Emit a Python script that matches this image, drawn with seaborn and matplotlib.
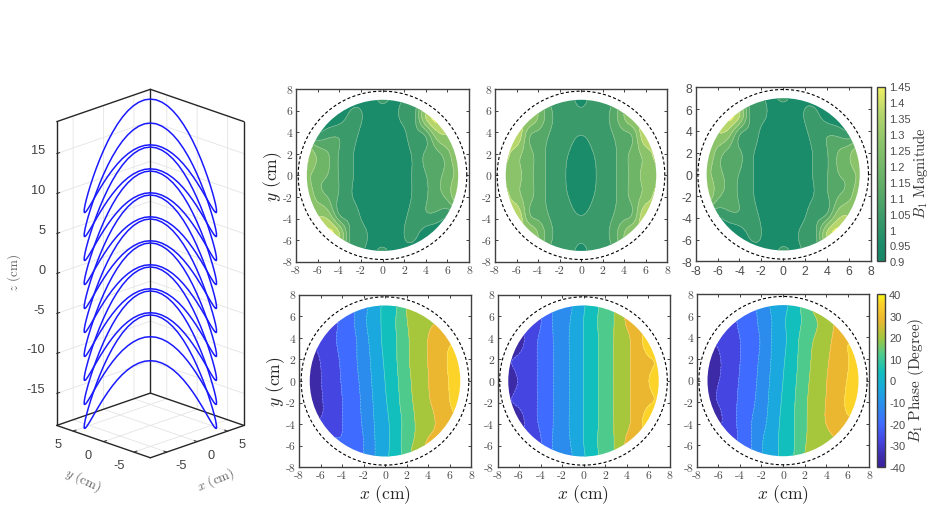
import numpy as np
import matplotlib
matplotlib.use("Agg")
import matplotlib.pyplot as plt
import pandas as pd
import seaborn as sns
from matplotlib.colors import LinearSegmentedColormap, Normalize
from matplotlib.cm import ScalarMappable
from matplotlib.patches import Circle
from mpl_toolkits.mplot3d import proj3d

W, H = 935, 510

# Sampling positions of the field tables (cm)
grid_x = [-7, -6, -5, -4, -3, -2, -1, 0, 1, 2, 3, 4, 5, 6, 7]
grid_y = [7, 5.5, 4, 2, 0, -2, -4, -5.5, -7]

# B1 magnitude, one row per grid_y value
mag_left = [
    [.92, .92, .93, .94, .96, .98, .97, 1.02, .98, 1.005, 1.035, 1.14, 1.18, 1.18, 1.18],
    [.93, .93, .93, .95, 1.015, 1.005, .97, .95, .97, 1.02, 1.06, 1.33, 1.44, 1.30, 1.18],
    [.98, .99, 1.03, 1.05, 1.035, .99, .95, .94, .95, .99, 1.05, 1.11, 1.30, 1.32, 1.20],
    [1.33, 1.195, 1.14, 1.065, 1.015, .97, .94, .93, .94, .97, 1.02, 1.08, 1.12, 1.19, 1.33],
    [1.26, 1.17, 1.135, 1.065, 1.015, .97, .94, .93, .94, .97, 1.015, 1.067, 1.115, 1.17, 1.26],
    [1.33, 1.19, 1.135, 1.06, 1.01, .97, .94, .93, .94, .97, 1.015, 1.06, 1.115, 1.16, 1.33],
    [1.20, 1.32, 1.30, 1.11, 1.05, 1.00, .96, .94, .95, .99, 1.035, 1.05, 1.03, .99, .98],
    [1.18, 1.30, 1.44, 1.33, 1.065, 1.02, .98, .95, .96, 1.00, 1.015, .95, .93, .93, .93],
    [1.18, 1.18, 1.18, 1.14, 1.035, 1.01, .98, 1.02, .97, .98, .96, .94, .93, .92, .92],
]
mag_mid = [
    [1.155, 1.155, 1.155, 1.14, 1.065, 1.03, 1.02, .98, 1.02, 1.03, 1.065, 1.14, 1.155, 1.155, 1.155],
    [1.32, 1.32, 1.32, 1.22, 1.10, 1.04, 1.02, 1.015, 1.02, 1.04, 1.10, 1.22, 1.32, 1.32, 1.32],
    [1.30, 1.42, 1.20, 1.13, 1.075, 1.035, 1.015, 1.005, 1.015, 1.035, 1.075, 1.13, 1.20, 1.42, 1.30],
    [1.36, 1.26, 1.18, 1.11, 1.055, 1.02, .995, .97, .995, 1.02, 1.055, 1.11, 1.18, 1.26, 1.36],
    [1.28, 1.25, 1.18, 1.11, 1.055, 1.02, .985, .96, .985, 1.02, 1.055, 1.11, 1.18, 1.25, 1.28],
    [1.36, 1.26, 1.18, 1.11, 1.055, 1.02, .995, .97, .995, 1.02, 1.055, 1.11, 1.18, 1.26, 1.36],
    [1.30, 1.42, 1.20, 1.13, 1.075, 1.035, 1.015, 1.005, 1.015, 1.035, 1.075, 1.13, 1.20, 1.42, 1.30],
    [1.32, 1.32, 1.32, 1.22, 1.10, 1.04, 1.02, 1.015, 1.02, 1.04, 1.10, 1.22, 1.32, 1.32, 1.32],
    [1.155, 1.155, 1.155, 1.14, 1.065, 1.03, 1.02, .98, 1.02, 1.03, 1.065, 1.14, 1.155, 1.155, 1.155],
]
mag_right = [
    [1.18, 1.18, 1.18, 1.14, 1.035, 1.01, .98, 1.02, .97, .98, .96, .94, .93, .92, .92],
    [1.18, 1.30, 1.44, 1.33, 1.06, 1.02, .97, .95, .97, 1.005, 1.015, .95, .93, .93, .93],
    [1.20, 1.32, 1.30, 1.11, 1.05, .99, .95, .94, .95, .99, 1.035, 1.05, 1.03, .99, .98],
    [1.33, 1.19, 1.12, 1.08, 1.02, .97, .94, .93, .94, .97, 1.015, 1.065, 1.14, 1.195, 1.33],
    [1.26, 1.17, 1.115, 1.067, 1.015, .97, .94, .93, .94, .97, 1.015, 1.065, 1.135, 1.17, 1.26],
    [1.33, 1.16, 1.115, 1.06, 1.015, .97, .94, .93, .94, .97, 1.01, 1.06, 1.135, 1.19, 1.33],
    [.98, .99, 1.03, 1.05, 1.035, .99, .95, .94, .96, 1.00, 1.05, 1.11, 1.30, 1.32, 1.20],
    [.93, .93, .93, .95, 1.015, 1.00, .96, .95, .98, 1.02, 1.065, 1.33, 1.44, 1.30, 1.18],
    [.92, .92, .93, .94, .96, .98, .97, 1.02, .98, 1.01, 1.035, 1.14, 1.18, 1.18, 1.18],
]

# B1 phase in degrees, one row per grid_y value
phase_left = [
    [-26, -26, -25, -22, -17, -11, -4, 2, 7, 16, 21, 23, 24, 24, 24],
    [-30, -28, -26, -22.5, -17, -10, -3.5, 2, 8, 15.5, 20, 23, 24, 25, 25],
    [-32, -29, -25.8, -22, -17.8, -11.5, -4, 1.8, 7.5, 14.5, 20, 24, 27.5, 30, 31],
    [-36.5, -31.7, -27.3, -22.8, -18, -12.5, -5.3, 1, 7.2, 14.4, 19.5, 24.2, 28.7, 33, 38],
    [-37, -32.4, -28, -23.5, -18.8, -13.5, -6.2, 0, 6.2, 13.5, 18.8, 23.7, 28, 32.4, 37],
    [-37.5, -33, -28.7, -24.2, -19.5, -14.4, -7.2, -1, 5.3, 12.5, 18, 22.8, 27.3, 31.7, 36.5],
    [-31, -30, -27.5, -24.2, -20, -15, -8, -2.3, 4, 11, 17, 21, 25.5, 29, 32],
    [-22, -22, -23, -23.5, -20.5, -16, -8.5, -2.4, 3.8, 12, 18, 24.5, 26, 28, 30],
    [-21, -21, -21, -21, -20, -16, -8.5, -2, 4, 12, 22, 26, 27, 28, 30],
]
phase_mid = [
    [-26, -26, -26, -25, -17, -12, -8, -1, 5, 12, 17, 25, 26, 26, 26],
    [-30, -30, -28, -24.5, -16.8, -12, -6.5, 0, 6, 12, 17, 24.7, 27, 30, 30],
    [-40, -36, -28, -23, -17, -11.7, -6, 0, 5.7, 11.5, 17, 22.4, 28, 36, 40],
    [-33, -30.5, -27, -22.5, -17, -12, -6.2, 0, 5.7, 11.5, 17, 22.2, 27, 31, 33],
    [-36.5, -31.4, -27, -22.5, -17, -12, -6.2, 0, 5.7, 11.5, 17, 22.2, 27, 31.6, 36],
    [-33, -30.5, -27, -22.5, -17, -12, -6.2, 0, 5.7, 11.5, 17, 22.2, 27, 31, 33],
    [-40, -36, -28, -23, -17, -11.7, -6, 0, 5.7, 11.5, 17, 22.4, 28, 36, 40],
    [-30, -30, -28, -24.5, -16.8, -12, -6.5, 0, 6, 12, 17, 24.7, 27, 30, 30],
    [-26, -26, -26, -25, -17, -12, -8, -1, 5, 12, 17, 25, 26, 26, 26],
]
phase_right = [
    [-28, -28, -27, -24, -19, -13, -6.5, -2, 3, 12, 20, 26, 26, 28, 30],
    [-30, -29, -27, -23, -20, -13.5, -7.8, -1.3, 3.7, 9.8, 15, 21, 25, 27, 30],
    [-32, -30.5, -28, -24, -20, -15, -7.5, -1.8, 4.5, 11.4, 16.5, 21.5, 26, 31, 36],
    [-37.5, -33, -28.7, -24.2, -19.5, -14.4, -7.2, -1, 5.3, 12.5, 18, 22.8, 27.3, 31.7, 34],
    [-37, -32.4, -28, -23.5, -18.8, -13.5, -6.2, 0, 6.2, 13.5, 18.8, 23.7, 28, 32.4, 37],
    [-36.5, -31.7, -27.3, -22.8, -18, -12.5, -5.3, 1, 7.2, 14.4, 19.5, 24.2, 28.7, 33.2, 37],
    [-36, -34, -27, -22.8, -16.5, -11, -4, 1.8, 7.5, 14.5, 20, 24, 28, 30, 32],
    [-26, -26, -26, -23, -16.5, -9, -3, 2, 7.5, 15, 19, 22, 24, 26, 28],
    [-24, -24, -24, -23, -17, -9, -3, 2, 8, 16, 21, 24, 25, 26, 28],
]

# Contour levels and colour bar ticks
mag_levels = [0.9, 1.0, 1.07, 1.14, 1.22, 1.32, 1.42, 1.5]
mag_ticks = [0.9, 0.95, 1, 1.05, 1.1, 1.15, 1.2, 1.25, 1.3, 1.35, 1.4, 1.45]
mag_tick_labels = ["0.9", "0.95", "1", "1.05", "1.1", "1.15", "1.2", "1.25", "1.3", "1.35", "1.4", "1.45"]
phase_levels = [-40, -32, -24, -16, -8, 0, 8, 16, 24, 32, 40]
phase_ticks = [-40, -30, -20, -10, 0, 10, 20, 30, 40]
plane_ticks = [-8, -6, -4, -2, 0, 2, 4, 6, 8]

# Coil loops: lowest z of every loop and its rise over a quarter turn
loop_base_z = [-19.2, -16.2, -13.2, -10.2, -7.2, -4.2, -1.2, 1.8, 4.8, 7.8]
profile_deg = [0, 5, 10, 15, 20, 25, 30, 35, 40, 45, 50, 55, 60, 65, 70, 75, 80, 85, 90]
profile_rise = [11.16, 11.08, 10.82, 10.41, 9.85, 9.17, 8.37, 7.49, 6.55, 5.58,
                4.61, 3.67, 2.79, 1.99, 1.31, 0.75, 0.34, 0.08, 0.0]
coil_radius = 7.7
coil_ticks = [-5, 0, 5]
height_ticks = [-15, -10, -5, 0, 5, 10, 15]
dashed_radius = 7.8
field_radius = 7.0

sns.set_theme(style="ticks", rc={
    "axes.edgecolor": "0.25", "axes.linewidth": 1.0,
    "xtick.color": "0.25", "ytick.color": "0.25",
    "mathtext.fontset": "cm", "grid.color": "#e4e4e4", "grid.linewidth": 0.6,
})
plt.rcParams["font.family"] = ["Liberation Sans", "DejaVu Sans"]

mag_cmap = LinearSegmentedColormap.from_list("b1_mag", [
    (0.0, "#168566"), (0.09, "#1b8c6a"), (0.245, "#3a9a69"), (0.373, "#55a868"),
    (0.509, "#6eb568"), (0.673, "#8ac36a"), (0.855, "#b6d66c"), (1.0, "#f3f164")])
phase_cmap = LinearSegmentedColormap.from_list("b1_phase", [
    (0.0, "#3a1f9e"), (0.05, "#3c2ba7"), (0.15, "#4545e2"), (0.25, "#3f6cff"),
    (0.35, "#2b8cee"), (0.45, "#1aa8de"), (0.55, "#12bfbc"), (0.65, "#4dcb8d"),
    (0.75, "#a4c63c"), (0.85, "#ecb730"), (0.95, "#fcd22a"), (1.0, "#f9fb15")])
mag_norm = Normalize(0.9, 1.45)
phase_norm = Normalize(-40, 40)

fig = plt.figure(figsize=(W / 100, H / 100), dpi=100, facecolor="white")


def pixel_axes(left, top, right, bottom, **kw):
    return fig.add_axes([left / W, 1 - bottom / H, (right - left) / W, (bottom - top) / H], **kw)


def spline_weights(knots, query):
    """Weights of a natural cubic spline through knots, evaluated at query."""
    knots = np.asarray(knots, dtype=float)
    n = len(knots)
    h = np.diff(knots)
    a_mat = np.zeros((n, n))
    b_mat = np.zeros((n, n))
    a_mat[0, 0] = a_mat[-1, -1] = 1
    for i in range(1, n - 1):
        a_mat[i, i - 1:i + 2] = h[i - 1], 2 * (h[i - 1] + h[i]), h[i]
        b_mat[i, i - 1:i + 2] = 6 / h[i - 1], -6 / h[i - 1] - 6 / h[i], 6 / h[i]
    curv = np.linalg.solve(a_mat, b_mat)
    idx = np.clip(np.searchsorted(knots, query) - 1, 0, n - 2)
    span = h[idx]
    a = (knots[idx + 1] - query) / span
    b = 1 - a
    rows = np.arange(len(query))
    out = np.zeros((len(query), n))
    out[rows, idx] += a
    out[rows, idx + 1] += b
    out += ((a**3 - a) * span**2 / 6)[:, None] * curv[idx]
    out += ((b**3 - b) * span**2 / 6)[:, None] * curv[idx + 1]
    return out


fine = np.linspace(-7, 7, 281)
weights_x = spline_weights(grid_x, fine)
weights_y = spline_weights(grid_y[::-1], fine)


def field_panel(box, table, levels, cmap, norm, sans=False, xlabel=False, ylabel=False):
    ax = pixel_axes(*box)
    samples = np.asarray(table, dtype=float)[::-1]
    surface = weights_y @ samples @ weights_x.T
    filled = ax.contourf(fine, fine, surface, levels=levels, cmap=cmap, norm=norm, extend="both")
    lines = ax.contour(fine, fine, surface, levels=levels, colors="white", linewidths=0.45, alpha=0.4)
    clip = Circle((0, 0), field_radius, transform=ax.transData)
    filled.set_clip_path(clip)
    lines.set_clip_path(clip)

    angle = np.radians(np.arange(0, 361, 2))
    ring = pd.DataFrame({"x": dashed_radius * np.cos(angle), "y": dashed_radius * np.sin(angle)})
    sns.lineplot(data=ring, x="x", y="y", sort=False, estimator=None, ax=ax, color="black",
                 linewidth=0.8, linestyle=(0, (2.8, 2.0)), legend=False, zorder=5)

    ax.set_xlim(-8, 8)
    ax.set_ylim(-8, 8)
    ax.set_xticks(plane_ticks)
    ax.set_yticks(plane_ticks)
    tick_font = {"family": "Liberation Sans", "size": 8.8} if sans else {"family": "cmr10", "size": 8.4}
    ax.set_xticklabels([str(t) for t in plane_ticks], color="0.3", **tick_font)
    ax.set_yticklabels([str(t) for t in plane_ticks], color="0.3", **tick_font)
    ax.tick_params(direction="in", length=2, width=0.7, top=True, right=True, pad=2.5)
    ax.set_xlabel(r"$x$ (cm)" if xlabel else "", family="cmr10", fontsize=12.6, color="0.15", labelpad=1.5)
    ax.set_ylabel(r"$y$ (cm)" if ylabel else "", family="cmr10", fontsize=12.6, color="0.15", labelpad=-1)
    return ax


def colour_bar(box, cmap, norm, ticks, labels, title, title_x, title_y, size):
    cax = pixel_axes(*box)
    fig.colorbar(ScalarMappable(norm=norm, cmap=cmap), cax=cax, ticks=ticks)
    cax.set_yticklabels(labels, family="Liberation Sans", fontsize=8, color="0.3")
    cax.tick_params(direction="in", length=2, width=0.6, pad=3)
    fig.text(title_x / W, 1 - title_y / H, title, rotation=90, ha="center", va="center",
             family="cmr10", fontsize=size, color="0.2")


field_panel((296, 90, 469, 262.7), mag_left, mag_levels, mag_cmap, mag_norm, ylabel=True)
field_panel((495, 90, 667, 262.7), mag_mid, mag_levels, mag_cmap, mag_norm)
field_panel((695.7, 88.3, 870.7, 262.3), mag_right, mag_levels, mag_cmap, mag_norm, sans=True)
field_panel((299, 295.7, 471, 468.3), phase_left, phase_levels, phase_cmap, phase_norm, xlabel=True, ylabel=True)
field_panel((497.5, 295.7, 669.5, 468.3), phase_mid, phase_levels, phase_cmap, phase_norm, xlabel=True)
field_panel((696.7, 295.3, 869.3, 468), phase_right, phase_levels, phase_cmap, phase_norm, xlabel=True)

colour_bar((877, 87.5, 885, 262.3), mag_cmap, mag_norm, mag_ticks, mag_tick_labels,
           r"$B_1$ Magnitude", 921, 173, 10.5)
colour_bar((877, 295, 885, 468), phase_cmap, phase_norm, phase_ticks,
           [str(t) for t in phase_ticks], r"$B_1$ Phase (Degree)", 916, 380, 11)

# Coil on a cylinder, seen along the diagonal of the square footprint
side = 500
cx, cy = 143.6, 281.3
ax3 = pixel_axes(cx - side / 2, cy - side / 2, cx + side / 2, cy + side / 2, projection="3d", proj_type="ortho")
ax3.patch.set_alpha(0)
ax3.computed_zorder = False
ax3.view_init(elev=20.2, azim=-135)
lim = coil_radius
zlo, zhi = -19, 19
ax3.set_xlim(-lim, lim)
ax3.set_ylim(-lim, lim)
ax3.set_zlim(zlo, zhi)
aspect = (1, 1, 2.444)
ax3.set_box_aspect(aspect, zoom=1.0)

# Outline of the two back walls and the floor
outline = [
    ([-lim, -lim], [lim, lim], [zlo, zhi]),
    ([lim, lim], [-lim, -lim], [zlo, zhi]),
    ([lim, lim], [lim, lim], [zlo, zhi]),
    ([-lim, lim], [lim, lim], [zhi, zhi]),
    ([lim, lim], [lim, -lim], [zhi, zhi]),
    ([-lim, lim], [lim, lim], [zlo, zlo]),
    ([lim, lim], [lim, -lim], [zlo, zlo]),
    ([-lim, -lim], [lim, -lim], [zlo, zlo]),
    ([-lim, lim], [-lim, -lim], [zlo, zlo]),
]
for ex, ey, ez in outline:
    ax3.plot(ex, ey, ez, color="0.15", linewidth=1.0, zorder=3, clip_on=False)

turn = np.radians(np.arange(0, 361, 5))
quarter = np.asarray(profile_rise)
half = np.concatenate([quarter, quarter[-2::-1]])
rise = np.concatenate([half, half[1:]])
view_offset = np.radians(-135)
for base in loop_base_z:
    ax3.plot(coil_radius * np.cos(turn + view_offset), coil_radius * np.sin(turn + view_offset),
             base + rise, color="#1a1aff", linewidth=1.1, clip_on=False, zorder=4)

ax3.set_xticks(coil_ticks)
ax3.set_yticks(coil_ticks)
ax3.set_zticks(height_ticks)
ax3.set_xticklabels([""] * len(coil_ticks))
ax3.set_yticklabels([""] * len(coil_ticks))
ax3.set_zticklabels([""] * len(height_ticks))
for axis in (ax3.xaxis, ax3.yaxis, ax3.zaxis):
    axis.set_pane_color((1, 1, 1, 0))
    axis.pane.set_edgecolor((1, 1, 1, 0))
    axis.line.set_color((1, 1, 1, 0))
    axis._axinfo["tick"]["inward_factor"] = 0.0
    axis._axinfo["tick"]["outward_factor"] = 0.4
    axis._axinfo["tick"]["linewidth"] = {True: 0.8, False: 0.5}
    axis._axinfo["tick"]["color"] = "0.25"


def to_pixels(x, y, z):
    sx, sy, _ = proj3d.proj_transform(np.atleast_1d(float(x)), np.atleast_1d(float(y)),
                                      np.atleast_1d(float(z)), ax3.get_proj())
    return ax3.transData.transform(np.column_stack([sx, sy]))[0]


fig.canvas.draw()
box_width = abs(to_pixels(lim, -lim, 0)[0] - to_pixels(-lim, lim, 0)[0])
ax3.set_box_aspect(aspect, zoom=187.3 / box_width)
fig.canvas.draw()

# Tick labels set beside the projected tick positions
for value in height_ticks:
    px, py = to_pixels(-lim, lim, value)
    fig.text((px - 11.5) / W, (py + 4) / H, str(value), ha="right", va="center",
             fontsize=9.2, color="0.25")
for value in coil_ticks:
    px, py = to_pixels(-lim, value, zlo)
    fig.text((px - 15) / W, (py - 13) / H, str(value), ha="center", va="center",
             fontsize=9.2, color="0.25")
    px, py = to_pixels(value, -lim, zlo)
    fig.text((px + 14) / W, (py - 13) / H, str(value), ha="center", va="center",
             fontsize=9.2, color="0.25")

for label, lx, ly, rot in [(r"$z$ (cm)", 14, 273, 90), (r"$y$ (cm)", 83, 480, -25), (r"$x$ (cm)", 216, 480, 23)]:
    fig.text(lx / W, 1 - ly / H, label, rotation=rot, ha="center", va="center",
             family="cmr10", fontsize=9.5, color="0.4", rotation_mode="anchor")

fig.savefig("out.png", dpi=100, facecolor="white")
